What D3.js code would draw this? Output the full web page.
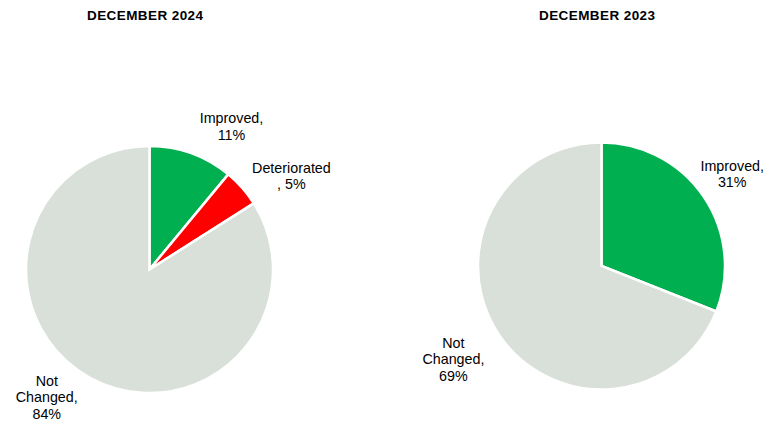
<!DOCTYPE html>
<html>
<head>
<meta charset="utf-8">
<script src="https://cdn.jsdelivr.net/npm/d3@7"></script>
<style>
  html, body { margin: 0; padding: 0; background: #ffffff; }
  svg { display: block; }
  .title { font-family: "Liberation Sans", Arial, sans-serif; font-weight: bold; font-size: 13.5px; fill: #000; }
  .label { font-family: "Liberation Sans", Arial, sans-serif; font-size: 14.3px; fill: #000; }
</style>
</head>
<body>
<svg id="chart" width="778" height="425"></svg>
<script>
// Survey outcome shares, two periods
const titles = ["DECEMBER 2024", "DECEMBER 2023"];
const categories2024 = ["Improved", "Deteriorated", "Not Changed"];
const values2024 = [11, 5, 84];
const categories2023 = ["Improved", "Not Changed"];
const values2023 = [31, 69];

const colorOf = {
  "Improved": "#00B050",
  "Deteriorated": "#FF0000",
  "Not Changed": "#D9E0D9"
};

// label text lines per category (Excel-style wrapping)
function labelLines(cat, v) {
  if (cat === "Improved") return ["Improved,", v + "%"];
  if (cat === "Deteriorated") return ["Deteriorated", ", " + v + "%"];
  return ["Not", "Changed,", v + "%"];
}

const svg = d3.select("#chart");

const panels = [
  { title: titles[0], cats: categories2024, vals: values2024, cx: 149.5, cy: 269.5, r: 123.5, titleX: 145,
    // label placement: angle nudge (deg) and radial distance per slice
    labelPos: [{ da: 10, dist: 165 }, { da: 8, dist: 170 }, { da: 10, dist: 164 }] },
  { title: titles[1], cats: categories2023, vals: values2023, cx: 601.5, cy: 266, r: 123.5, titleX: 597,
    labelPos: [{ da: -1, dist: 160 }, { da: 2, dist: 175 }] }
];

const pie = d3.pie().sort(null).value(d => d.v);

panels.forEach(p => {
  const data = p.cats.map((c, i) => ({ c, v: p.vals[i] }));
  const arcs = pie(data);
  const arc = d3.arc().innerRadius(0).outerRadius(p.r);

  svg.append("text")
    .attr("class", "title")
    .attr("x", p.titleX)
    .attr("y", 19.5)
    .attr("text-anchor", "middle")
    .attr("textLength", 116)
    .attr("lengthAdjust", "spacing")
    .text(p.title);

  const g = svg.append("g").attr("transform", `translate(${p.cx},${p.cy})`);

  g.selectAll("path")
    .data(arcs)
    .join("path")
    .attr("d", arc)
    .attr("fill", d => colorOf[d.data.c])
    .attr("stroke", "#ffffff")
    .attr("stroke-width", 2.5)
    .attr("stroke-linejoin", "miter");

  const lineH = 16.5;
  arcs.forEach((a, i) => {
    const lp = p.labelPos[i];
    const mid = (a.startAngle + a.endAngle) / 2 + lp.da * Math.PI / 180;
    const x = Math.sin(mid) * lp.dist;
    const y = -Math.cos(mid) * lp.dist;
    const lines = labelLines(a.data.c, a.data.v);
    const t = g.append("text")
      .attr("class", "label")
      .attr("text-anchor", "middle")
      .attr("x", x)
      .attr("y", y - (lines.length - 1) * lineH / 2 + 5);
    lines.forEach((s, k) => {
      t.append("tspan").attr("x", x).attr("dy", k === 0 ? 0 : lineH).text(s);
    });
  });
});
</script>
</body>
</html>
